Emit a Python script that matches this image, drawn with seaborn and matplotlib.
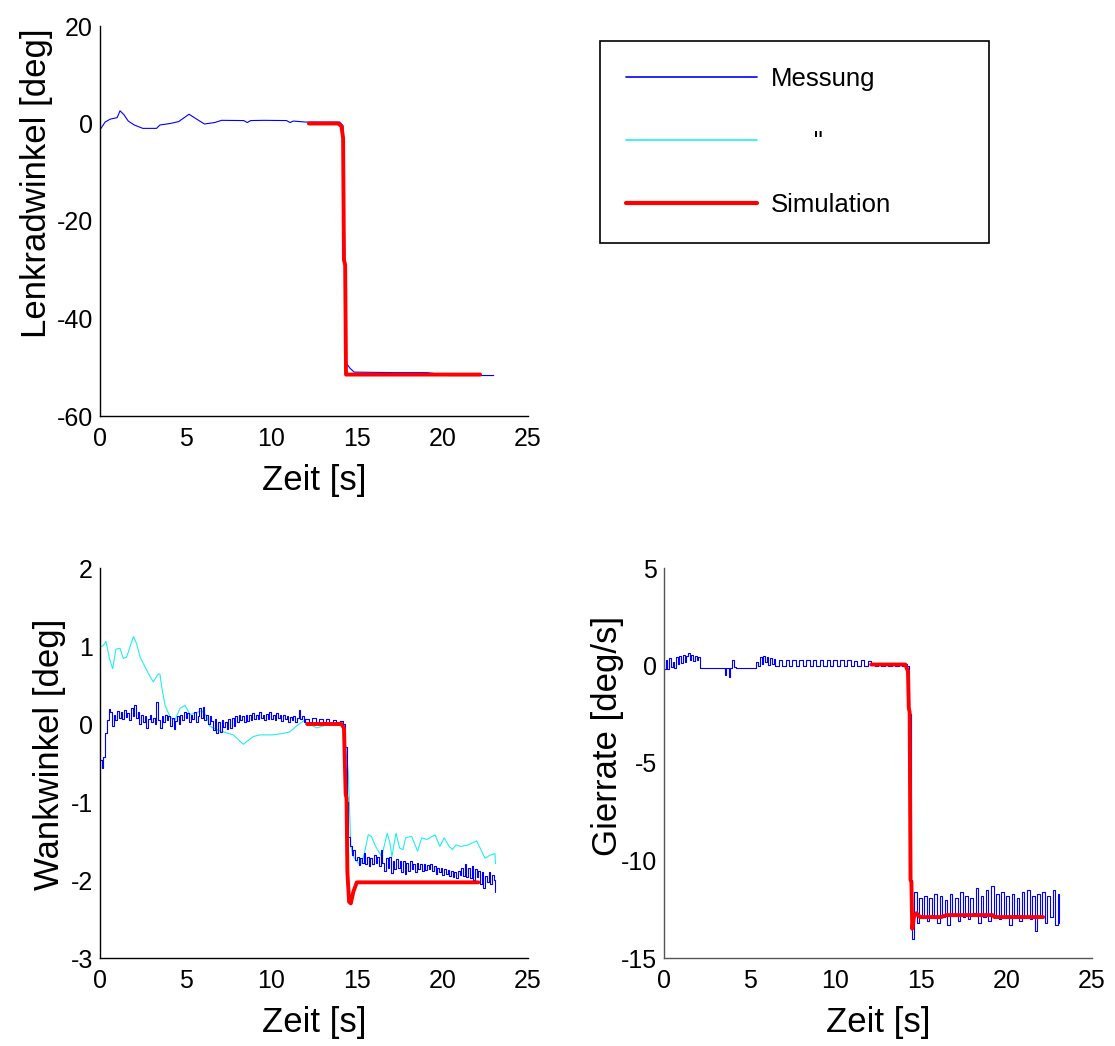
import numpy as np
import pandas as pd
import matplotlib
matplotlib.use('Agg')
import matplotlib.pyplot as plt
import seaborn as sns

# ── Data: Lenkradwinkel ────────────────────────────────────────────────────
lenk_mess_t = [0.0, 0.3, 0.6, 1.0, 1.17, 1.4, 1.65, 2.0, 2.5, 3.3, 3.5, 4.1, 4.6,
               5.2, 5.6, 6.1, 6.7, 7.1, 8.4, 8.6, 8.8, 9.6, 10.9, 11.1, 11.3, 12.0,
               14.0, 14.2, 14.3, 14.35, 14.4, 14.6, 14.85, 17.2, 19.1, 20.4, 23.0]
lenk_mess_v = [-1.3, 0.3, 0.9, 1.2, 2.6, 1.8, 0.5, -0.3, -1.0, -1.0, -0.3, 0.0, 0.4,
               1.9, 1.0, -0.1, 0.2, 0.65, 0.6, 0.2, 0.6, 0.65, 0.6, 0.2, 0.5, 0.3,
               0.3, -0.5, -28.0, -45.0, -49.2, -50.2, -51.0, -51.1, -51.1, -51.7, -51.7]

lenk_sim_t = [12.2, 13.9, 14.1, 14.2, 14.25, 14.32, 14.37, 22.2]
lenk_sim_v = [0.0, 0.0, -0.5, -3.0, -28.0, -29.0, -51.5, -51.5]

# ── Data: Wankwinkel ───────────────────────────────────────────────────────
wank_mess1_t = [0.0, 0.1, 0.2, 0.3, 0.4, 0.5, 0.6, 0.7, 0.8, 0.9, 1.0, 1.1, 1.2, 1.3, 1.4,
                1.5, 1.6, 1.7, 1.8, 1.9, 2.0, 2.1, 2.2, 2.3, 2.4, 2.5, 2.6, 2.7, 2.8, 2.9,
                3.0, 3.1, 3.2, 3.3, 3.4, 3.5, 3.6, 3.7, 3.8, 3.9, 4.0, 4.1, 4.2, 4.3, 4.4,
                4.5, 4.6, 4.7, 4.8, 4.9, 5.0, 5.1, 5.2, 5.3, 5.4, 5.5, 5.6, 5.7, 5.8, 5.9,
                6.0, 6.1, 6.2, 6.3, 6.4, 6.5, 6.6, 6.7, 6.8, 6.9, 7.0, 7.1, 7.2, 7.3, 7.4,
                7.5, 7.6, 7.7, 7.8, 7.9, 8.0, 8.1, 8.2, 8.3, 8.4, 8.5, 8.6, 8.7, 8.8, 8.9,
                9.0, 9.1, 9.2, 9.3, 9.4, 9.5, 9.6, 9.7, 9.8, 9.9, 10.0, 10.1, 10.2, 10.3, 10.4,
                10.5, 10.6, 10.7, 10.8, 10.9, 11.0, 11.1, 11.2, 11.3, 11.4, 11.5, 11.6, 11.7,
                11.8, 11.9, 12.0, 12.2, 12.4, 12.6, 12.8, 13.0, 13.2, 13.4, 13.6, 13.8, 14.0,
                14.2, 14.3, 14.4, 14.5, 14.6, 14.7, 14.8, 14.9, 15.0, 15.1, 15.2, 15.3, 15.4,
                15.5, 15.6, 15.7, 15.8, 15.9, 16.0, 16.1, 16.2, 16.3, 16.4, 16.5, 16.6, 16.7,
                16.8, 16.9, 17.0, 17.1, 17.2, 17.3, 17.4, 17.5, 17.6, 17.7, 17.8, 17.9, 18.0,
                18.1, 18.2, 18.3, 18.4, 18.5, 18.6, 18.7, 18.8, 18.9, 19.0, 19.1, 19.2, 19.3,
                19.4, 19.5, 19.6, 19.7, 19.8, 19.9, 20.0, 20.1, 20.2, 20.3, 20.4, 20.5, 20.6,
                20.7, 20.8, 20.9, 21.0, 21.1, 21.2, 21.3, 21.4, 21.5, 21.6, 21.7, 21.8, 21.9,
                22.0, 22.1, 22.2, 22.3, 22.4, 22.5, 22.6, 22.7, 22.8, 22.9, 23.0, 23.1]
wank_mess1_v = [-0.46, -0.56, -0.42, -0.12, 0.05, 0.19, 0.15, -0.02, 0.12, 0.05, 0.17, 0.08, 0.16, 0.06, 0.18,
                0.09, 0.14, 0.05, 0.2, 0.1, 0.24, 0.08, 0.15, 0.0, 0.12, 0.03, 0.1, -0.05, 0.06, 0.12,
                0.02, 0.08, 0.0, 0.28, 0.05, -0.05, 0.1, 0.02, 0.12, 0.05, 0.1, -0.02, 0.08, -0.07, 0.04,
                0.1, 0.0, 0.12, 0.05, 0.16, 0.08, 0.14, 0.03, 0.12, 0.06, 0.15, 0.02, 0.1, 0.2, 0.08,
                0.22, 0.05, 0.12, 0.0, 0.1, 0.04, -0.08, 0.06, -0.12, 0.02, -0.1, 0.05, -0.04, 0.03, -0.06,
                0.06, -0.05, 0.08, -0.02, 0.1, 0.02, 0.12, 0.05, 0.1, 0.03, 0.11, 0.04, 0.12, 0.05, 0.14,
                0.06, 0.12, 0.07, 0.15, 0.08, 0.12, 0.05, 0.13, 0.07, 0.15, 0.06, 0.12, 0.05, 0.14, 0.08,
                0.11, 0.04, 0.12, 0.06, 0.1, 0.03, 0.09, 0.05, 0.1, 0.02, 0.08, 0.18, 0.06,
                0.1, 0.02, 0.06, 0.03, 0.08, 0.02, 0.07, 0.03, 0.06, 0.01, 0.05, 0.02, 0.04,
                0.0, -0.3, -1.0, -1.45, -1.57, -1.68, -1.62, -1.74, -1.7, -1.81, -1.72, -1.78, -1.65,
                -1.8, -1.7, -1.82, -1.72, -1.8, -1.68, -1.78, -1.7, -1.82, -1.62, -1.78, -1.88, -1.72,
                -1.85, -1.7, -1.91, -1.75, -1.86, -1.73, -1.84, -1.76, -1.9, -1.76, -1.92, -1.78, -1.88,
                -1.76, -1.86, -1.8, -1.9, -1.78, -1.86, -1.8, -1.88, -1.79, -1.87, -1.81, -1.86, -1.8,
                -1.88, -1.82, -1.92, -1.84, -1.9, -1.85, -1.93, -1.86, -1.92, -1.87, -1.95, -1.88, -1.96,
                -1.9, -1.97, -1.88, -1.94, -1.84, -1.95, -1.8, -1.96, -1.85, -1.98, -1.82, -2.0, -1.86,
                -1.96, -1.88, -2.05, -1.9, -2.1, -1.95, -2.02, -1.9, -2.05, -1.93, -2.0, -2.16]

wank_mess2_t = [0.0, 0.2, 0.35, 0.55, 0.74, 0.93, 1.17, 1.36, 1.56, 1.95, 2.14, 2.34, 2.82,
                3.11, 3.4, 3.5, 3.6, 3.8, 4.09, 4.38, 4.67, 4.96, 5.26, 5.55, 5.94, 6.23,
                6.42, 6.91, 7.2, 7.79, 8.37, 8.96, 9.35, 10.1, 10.7, 11.1, 11.5, 11.9, 12.66,
                13.4, 14.2, 14.5, 14.6, 14.65, 14.8, 15.19, 15.4, 15.67, 15.85, 16.1, 16.45,
                16.78, 16.94, 17.05, 17.29, 17.5, 17.7, 17.85, 18.2, 18.55, 18.79, 19.1, 19.57,
                19.85, 20.1, 20.4, 20.58, 20.8, 21.07, 21.5, 22.0, 22.2, 22.49, 22.8, 23.07, 23.1]
wank_mess2_v = [0.98, 1.01, 1.06, 0.84, 0.71, 0.96, 0.97, 0.84, 0.86, 1.12, 1.03, 0.86, 0.65,
                0.54, 0.64, 0.64, 0.48, 0.24, 0.09, 0.05, 0.2, 0.24, 0.12, 0.14, 0.17, 0.1,
                -0.03, -0.08, -0.1, -0.14, -0.26, -0.16, -0.14, -0.14, -0.12, -0.1, -0.02, 0.04, -0.05,
                0.0, -0.02, -0.6, -1.23, -1.57, -1.7, -1.81, -1.70, -1.42, -1.44, -1.57, -1.7,
                -1.40, -1.53, -1.7, -1.40, -1.59, -1.61, -1.46, -1.44, -1.63, -1.46, -1.48, -1.42,
                -1.57, -1.46, -1.57, -1.61, -1.55, -1.57, -1.55, -1.5, -1.59, -1.72, -1.68, -1.66, -1.79]

wank_sim_t = [12.1, 14.1, 14.25, 14.35, 14.4, 14.45, 14.55, 14.65, 14.8, 15.0, 22.1]
wank_sim_v = [0.0, 0.0, -0.05, -0.9, -0.95, -1.9, -2.28, -2.3, -2.15, -2.03, -2.03]

# ── Data: Gierrate ─────────────────────────────────────────────────────────
gier_mess_t = [0.0, 0.1, 0.2, 0.3, 0.4, 0.5, 0.6, 0.7, 0.8, 0.9, 1.0, 1.1, 1.2, 1.3, 1.4,
               1.5, 1.6, 1.7, 1.8, 1.9, 2.0, 2.1, 3.5, 3.55, 3.6, 3.8, 3.85, 4.0, 4.1, 4.2,
               5.3, 5.4, 5.5, 5.6, 5.7, 5.8, 5.9, 6.0, 6.1, 6.2, 6.3, 6.4, 6.5, 6.7, 6.9,
               7.1, 7.3, 7.5, 7.7, 7.9, 8.1, 8.3, 8.5, 8.7, 8.9, 9.1, 9.3, 9.5, 9.7, 9.9,
               10.1, 10.3, 10.5, 10.7, 10.9, 11.1, 11.3, 11.5, 11.7, 11.9, 12.1, 12.3, 12.5,
               12.7, 12.9, 13.1, 13.3, 13.5, 13.7, 13.9, 14.1, 14.2, 14.3, 14.4, 14.5,
               14.6, 14.75, 14.9, 15.05, 15.2, 15.35, 15.5, 15.65, 15.8, 15.95, 16.1, 16.25,
               16.4, 16.55, 16.7, 16.85, 17.0, 17.15, 17.3, 17.45, 17.6, 17.75, 17.9, 18.05,
               18.2, 18.35, 18.5, 18.65, 18.8, 18.95, 19.1, 19.25, 19.4, 19.55, 19.7, 19.85,
               20.0, 20.15, 20.3, 20.45, 20.6, 20.75, 20.9, 21.05, 21.2, 21.35, 21.5, 21.65,
               21.8, 21.95, 22.1, 22.25, 22.4, 22.55, 22.7, 22.85, 23.0, 23.1]
gier_mess_v = [-0.2, 0.3, -0.2, 0.4, -0.1, 0.2, -0.15, 0.45, 0.1, 0.5, 0.15, 0.55, 0.2, 0.5, 0.65,
               0.3, 0.55, 0.25, 0.5, 0.3, 0.45, -0.15, -0.15, -0.5, -0.15, -0.6, -0.15, 0.3, -0.1, -0.15,
               -0.15, 0.2, -0.05, 0.45, 0.1, 0.5, 0.2, 0.45, 0.05, 0.4, 0.1, 0.35, -0.05, 0.3, -0.05,
               0.28, -0.04, 0.3, -0.05, 0.27, -0.03, 0.3, -0.05, 0.26, -0.04, 0.3, -0.05, 0.28, -0.03, 0.3,
               -0.05, 0.27, -0.04, 0.3, -0.05, 0.25, -0.03, 0.28, -0.05, 0.24, 0.12, -0.05, 0.15,
               -0.04, 0.14, -0.05, 0.15, -0.03, 0.13, -0.05, 0.1, 0.0, -2.5, -11.0, -14.0,
               -11.6, -13.2, -11.9, -12.9, -11.8, -13.1, -11.9, -12.8, -11.7, -13.2, -11.8, -12.9,
               -12.0, -13.3, -11.7, -12.8, -11.9, -13.1, -11.6, -12.9, -11.8, -13.0, -11.9, -12.7,
               -11.4, -13.2, -11.8, -12.9, -11.5, -13.1, -11.3, -12.8, -11.7, -13.0, -11.6, -12.9,
               -11.8, -13.3, -11.7, -12.8, -11.9, -13.1, -11.6, -12.9, -11.5, -13.0, -11.8, -13.6,
               -11.7, -12.9, -11.6, -13.2, -11.8, -12.9, -11.5, -13.3, -11.7, -13.2]

gier_sim_t = [12.1, 14.1, 14.25, 14.3, 14.35, 14.4, 14.45, 14.5, 14.6, 14.75, 14.95,
              16.2, 16.5, 19.2, 19.3, 22.15]
gier_sim_v = [0.05, 0.05, -0.3, -2.2, -2.4, -11.0, -11.1, -13.5, -12.9, -12.7, -12.9,
              -12.9, -12.8, -12.8, -12.9, -12.9]

# ── Style ──────────────────────────────────────────────────────────────────
sns.set_theme(style='white')
plt.rcParams['font.family'] = ['Liberation Sans', 'DejaVu Sans']
plt.rcParams.update({'axes.unicode_minus': False, 'text.color': 'black',
                     'axes.labelcolor': 'black', 'xtick.color': 'black',
                     'ytick.color': 'black'})

C_MESS1 = '#0000ff'
C_MESS2 = '#22eeee'
C_SIM = '#ff0000'
TICK_FS = 18
LABEL_FS = 25

fig = plt.figure(figsize=(11.15, 10.46), dpi=100)
W, H = 1115, 1046


def make_axes(left_px, top_px, w_px=428, h_px=390):
    return fig.add_axes([left_px / W, 1 - (top_px + h_px) / H, w_px / W, h_px / H])


def style_axes(ax, ylim, yticks, ylabel, label_xy, spine_color='black'):
    ax.set_xlim(0, 25)
    ax.set_xticks([0, 5, 10, 15, 20, 25])
    ax.set_ylim(*ylim)
    ax.set_yticks(yticks)
    for s in ['top', 'right']:
        ax.spines[s].set_visible(False)
    for s in ['left', 'bottom']:
        ax.spines[s].set_color(spine_color)
        ax.spines[s].set_linewidth(1.0)
    ax.tick_params(axis='both', direction='in', length=4.5, width=0.8,
                   color=spine_color, labelsize=TICK_FS, labelcolor='black')
    ax.tick_params(axis='x', pad=8)
    ax.tick_params(axis='y', pad=5)
    ax.set_xlabel('Zeit [s]', fontsize=LABEL_FS, labelpad=9)
    ax.set_ylabel(ylabel, fontsize=LABEL_FS)
    ax.yaxis.set_label_coords(*label_xy)
    ax.grid(False)


def draw(ax, t, v, color, lw, steps=False):
    kw = {'drawstyle': 'steps-post'} if steps else {}
    sns.lineplot(x=t, y=v, ax=ax, color=color, linewidth=lw,
                 sort=False, estimator=None, legend=False, **kw)


# ── Lenkradwinkel ──────────────────────────────────────────────────────────
ax1 = make_axes(100, 26)
draw(ax1, lenk_mess_t, lenk_mess_v, C_MESS1, 0.8)
draw(ax1, lenk_sim_t, lenk_sim_v, C_SIM, 2.8)
style_axes(ax1, (-60, 20), [-60, -40, -20, 0, 20], 'Lenkradwinkel [deg]', (-0.11, 0.597))

# ── Wankwinkel ─────────────────────────────────────────────────────────────
ax2 = make_axes(100, 568)
draw(ax2, wank_mess2_t, wank_mess2_v, C_MESS2, 0.8)
draw(ax2, wank_mess1_t, wank_mess1_v, C_MESS1, 0.8, steps=True)
draw(ax2, wank_sim_t, wank_sim_v, C_SIM, 2.8)
style_axes(ax2, (-3, 2), [-3, -2, -1, 0, 1, 2], 'Wankwinkel [deg]', (-0.08, 0.523))

# ── Gierrate ───────────────────────────────────────────────────────────────
ax3 = make_axes(664, 568)
draw(ax3, gier_mess_t, gier_mess_v, C_MESS1, 0.8, steps=True)
draw(ax3, gier_sim_t, gier_sim_v, C_SIM, 2.8)
style_axes(ax3, (-15, 5), [-15, -10, -5, 0, 5], 'Gierrate [deg/s]', (-0.093, 0.569),
           spine_color='#555555')

# ── Legend ─────────────────────────────────────────────────────────────────
handles = [ax2.lines[1], ax2.lines[0], ax2.lines[2]]
leg = fig.legend(handles, ['Messung', '      "', 'Simulation'],
                 loc='upper left', bbox_to_anchor=(600 / W, 1 - 240 / H, 389 / W, 199 / H),
                 mode='expand', borderaxespad=0, fontsize=18.5, frameon=True,
                 fancybox=False, shadow=False, edgecolor='black',
                 handlelength=5.1, handletextpad=0.55, borderpad=1.0, labelspacing=1.52)
leg.get_frame().set_linewidth(1.2)
leg.get_frame().set_alpha(1)
for lh, lw in zip(leg.get_lines(), [1.2, 1.2, 3.0]):
    lh.set_linewidth(lw)
    lh.set_drawstyle('default')

fig.savefig('out.png', dpi=100)
